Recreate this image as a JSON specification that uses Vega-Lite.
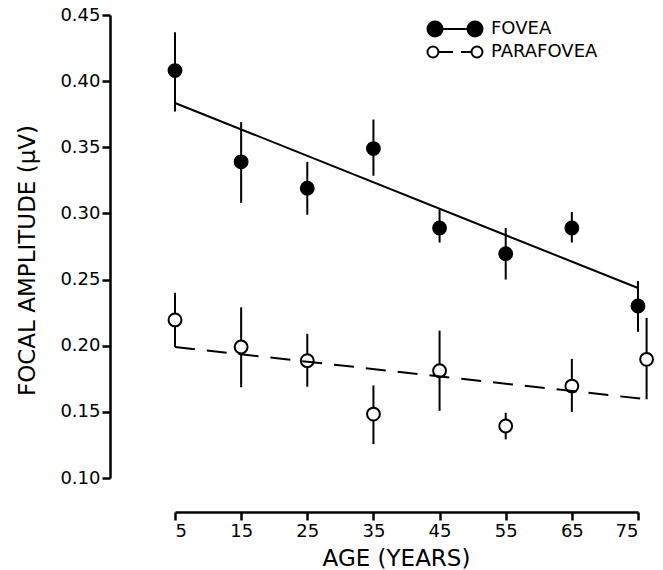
{
  "$schema": "https://vega.github.io/schema/vega-lite/v6.json",
  "autosize": "none",
  "padding": {"left": 175, "top": 15, "right": 25, "bottom": 92},
  "width": 463,
  "height": 463,
  "background": "white",
  "config": {
    "view": {"stroke": null},
    "axis": {
      "domainColor": "black", "domainWidth": 2.5, "tickColor": "black", "tickWidth": 2.5,
      "labelColor": "black", "titleColor": "black", "grid": false,
      "labelFont": "DejaVu Sans", "titleFont": "DejaVu Sans", "labelFontSize": 18, "titleFontSize": 23, "titleFontWeight": "normal"
    },
    "legend": {"labelFont": "DejaVu Sans", "labelFontSize": 18, "labelColor": "black"}
  },
  "datasets": {
    "pts": [
      {"series": "FOVEA", "age": 5, "value": 0.408, "lo": 0.377, "hi": 0.437},
      {"series": "FOVEA", "age": 15, "value": 0.339, "lo": 0.308, "hi": 0.369},
      {"series": "FOVEA", "age": 25, "value": 0.319, "lo": 0.299, "hi": 0.339},
      {"series": "FOVEA", "age": 35, "value": 0.349, "lo": 0.3285, "hi": 0.371},
      {"series": "FOVEA", "age": 45, "value": 0.289, "lo": 0.278, "hi": 0.303},
      {"series": "FOVEA", "age": 55, "value": 0.2695, "lo": 0.25, "hi": 0.289},
      {"series": "FOVEA", "age": 65, "value": 0.289, "lo": 0.278, "hi": 0.301},
      {"series": "FOVEA", "age": 75, "value": 0.23, "lo": 0.2106, "hi": 0.249},
      {"series": "PARAFOVEA", "age": 5, "value": 0.2195, "lo": 0.199, "hi": 0.24},
      {"series": "PARAFOVEA", "age": 15, "value": 0.199, "lo": 0.1686, "hi": 0.229},
      {"series": "PARAFOVEA", "age": 25, "value": 0.1887, "lo": 0.169, "hi": 0.209},
      {"series": "PARAFOVEA", "age": 35, "value": 0.1483, "lo": 0.1256, "hi": 0.17},
      {"series": "PARAFOVEA", "age": 45, "value": 0.1811, "lo": 0.1508, "hi": 0.2114},
      {"series": "PARAFOVEA", "age": 55, "value": 0.1393, "lo": 0.1292, "hi": 0.1493},
      {"series": "PARAFOVEA", "age": 65, "value": 0.1695, "lo": 0.15, "hi": 0.19},
      {"series": "PARAFOVEA", "age": 76.3, "value": 0.1897, "lo": 0.1595, "hi": 0.221}
    ],
    "fit": [
      {"series": "FOVEA", "age": 5, "value": 0.3835},
      {"series": "FOVEA", "age": 75, "value": 0.2436},
      {"series": "PARAFOVEA", "age": 5, "value": 0.199},
      {"series": "PARAFOVEA", "age": 76.3, "value": 0.1595}
    ]
  },
  "layer": [
    {
      "data": {"name": "pts"},
      "mark": {"type": "rule", "color": "black", "strokeWidth": 2},
      "encoding": {
        "x": {"field": "age", "type": "quantitative", "scale": {"domain": [5, 75], "nice": false, "zero": false},
          "axis": {"values": [5, 15, 25, 35, 45, 55, 65, 75], "offset": 34, "tickSize": 8, "labelPadding": 2,
            "encode": {"ticks": {"update": {"y2": {"value": -8}}}},
            "title": "AGE (YEARS)", "titleX": 221, "titleY": 53, "titleBaseline": "alphabetic", "titleAnchor": null, "titleAlign": "center"}},
        "y": {"field": "lo", "type": "quantitative", "scale": {"domain": [0.1, 0.45], "nice": false, "zero": false},
          "axis": {"values": [0.1, 0.15, 0.2, 0.25, 0.3, 0.35, 0.4, 0.45], "format": ".2f", "offset": 65, "tickSize": 8, "labelPadding": 2,
            "encode": {"ticks": {"update": {"x2": {"value": 8}}}},
            "title": "FOCAL AMPLITUDE (μV)", "titleX": -83, "titleY": 245, "titleAngle": -90, "titleBaseline": "middle", "titleAlign": "center", "titleAnchor": null}},
        "y2": {"field": "hi"}
      }
    },
    {
      "data": {"name": "pts"},
      "mark": {"type": "point", "filled": true, "stroke": "black", "strokeWidth": 2, "size": 165, "opacity": 1},
      "encoding": {
        "x": {"field": "age", "type": "quantitative"},
        "y": {"field": "value", "type": "quantitative"},
        "fill": {"field": "series", "type": "nominal", "scale": {"domain": ["FOVEA", "PARAFOVEA"], "range": ["black", "white"]},
          "legend": {
            "title": null, "orient": "none", "legendX": 269, "legendY": 3,
            "symbolSize": 400, "symbolStrokeWidth": 2, "symbolStrokeColor": "black", "symbolOpacity": 1, "labelOffset": 25, "rowPadding": -5,
            "encode": {"symbols": {"update": {"stroke": {"value": "black"}, "strokeWidth": {"value": 2}, "opacity": {"value": 1}}}}
          }}
      }
    },
    {
      "data": {"name": "pts"},
      "mark": {"type": "point", "filled": true, "stroke": "black", "strokeWidth": 2, "size": 1, "opacity": 0},
      "encoding": {
        "x": {"field": "age", "type": "quantitative"},
        "y": {"field": "value", "type": "quantitative"},
        "fill": {"field": "series", "type": "nominal",
          "legend": {
            "title": null, "orient": "none", "legendX": 269, "legendY": 3,
            "symbolSize": 400, "symbolStrokeWidth": 2, "symbolStrokeColor": "black", "symbolOpacity": 1, "labelOffset": 25, "rowPadding": -5,
            "encode": {"symbols": {"update": {"stroke": {"value": "black"}, "strokeWidth": {"value": 2}, "opacity": {"value": 1}}}}
          }},
        "shape": {"field": "series", "type": "nominal",
          "scale": {"domain": ["FOVEA", "PARAFOVEA"], "range": [
            "M -2.75 0 C -2.75 -0.414 -2.414 -0.75 -2 -0.75 C -1.586 -0.75 -1.25 -0.414 -1.25 0 C -1.25 0.414 -1.586 0.75 -2 0.75 C -2.414 0.75 -2.75 0.414 -2.75 0 Z M -1.25 0 L 1.25 0 M 1.25 0 C 1.25 -0.414 1.586 -0.75 2 -0.75 C 2.414 -0.75 2.75 -0.414 2.75 0 C 2.75 0.414 2.414 0.75 2 0.75 C 1.586 0.75 1.25 0.414 1.25 0 Z",
            "M -2.75 0 C -2.75 -0.304 -2.504 -0.55 -2.2 -0.55 C -1.896 -0.55 -1.65 -0.304 -1.65 0 C -1.65 0.304 -1.896 0.55 -2.2 0.55 C -2.504 0.55 -2.75 0.304 -2.75 0 Z M -1.65 0 L -0.2 0 M 0.6 0 L 1.65 0 M 1.65 0 C 1.65 -0.304 1.896 -0.55 2.2 -0.55 C 2.504 -0.55 2.75 -0.304 2.75 0 C 2.75 0.304 2.504 0.55 2.2 0.55 C 1.896 0.55 1.65 0.304 1.65 0 Z"
          ]},
          "legend": {
            "title": null, "orient": "none", "legendX": 269, "legendY": 3,
            "symbolSize": 400, "symbolStrokeWidth": 2, "symbolStrokeColor": "black", "symbolOpacity": 1, "labelOffset": 25, "rowPadding": -5,
            "encode": {"symbols": {"update": {"stroke": {"value": "black"}, "strokeWidth": {"value": 2}, "opacity": {"value": 1}}}}
          }}
      }
    },
    {
      "data": {"name": "fit"},
      "transform": [{"filter": "datum.series === 'FOVEA'"}],
      "mark": {"type": "line", "color": "black", "strokeWidth": 2},
      "encoding": {
        "x": {"field": "age", "type": "quantitative"},
        "y": {"field": "value", "type": "quantitative"}
      }
    },
    {
      "data": {"name": "fit"},
      "transform": [{"filter": "datum.series === 'PARAFOVEA'"}],
      "mark": {"type": "line", "color": "black", "strokeWidth": 2, "strokeDash": [20, 12]},
      "encoding": {
        "x": {"field": "age", "type": "quantitative"},
        "y": {"field": "value", "type": "quantitative"}
      }
    }
  ]
}
